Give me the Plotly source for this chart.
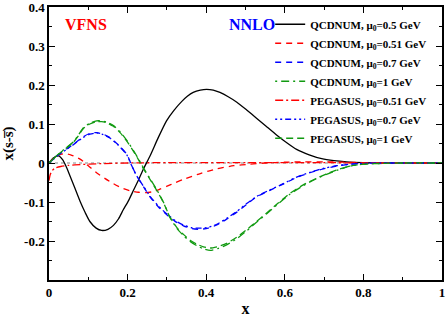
import plotly.graph_objects as go

# ---------------- data ----------------
x_q05 = [0, 0.01, 0.024, 0.035, 0.045, 0.053, 0.065, 0.079, 0.092, 0.104, 0.12, 0.134, 0.15, 0.164,
         0.177, 0.189, 0.202, 0.215, 0.228, 0.240, 0.257, 0.278, 0.299, 0.318, 0.338, 0.352, 0.367,
         0.385, 0.401, 0.418, 0.435, 0.456, 0.478, 0.503, 0.528, 0.554, 0.579, 0.605, 0.630, 0.662,
         0.694, 0.725, 0.757, 0.8, 0.85, 0.9, 1.0]
y_q05 = [0, 0.012, 0.018, 0.008, -0.012, -0.032, -0.062, -0.098, -0.127, -0.150, -0.167, -0.173,
         -0.170, -0.160, -0.143, -0.120, -0.097, -0.070, -0.043, -0.016, 0.018, 0.065, 0.108, 0.135,
         0.158, 0.171, 0.181, 0.187, 0.189, 0.187, 0.181, 0.170, 0.156, 0.136, 0.115, 0.093, 0.072,
         0.052, 0.035, 0.021, 0.011, 0.006, 0.003, 0.001, 0.0, 0.0, 0.0]

x_q051 = [0, 0.015, 0.03, 0.041, 0.055, 0.079, 0.1, 0.121, 0.143, 0.164, 0.185, 0.206, 0.228, 0.245,
          0.262, 0.28, 0.299, 0.32, 0.342, 0.385, 0.427, 0.47, 0.511, 0.55, 0.6, 0.65, 0.7, 0.75,
          0.8, 0.9, 1.0]
y_q051 = [0, 0.015, 0.022, 0.024, 0.021, 0.010, -0.007, -0.025, -0.040, -0.053, -0.064, -0.071,
          -0.075, -0.076, -0.074, -0.068, -0.060, -0.051, -0.042, -0.027, -0.015, -0.007, -0.003,
          0.0, 0.002, 0.003, 0.003, 0.002, 0.001, 0.0, 0.0]

x_q07 = [0, 0.025, 0.045, 0.062, 0.085, 0.104, 0.121, 0.138, 0.155, 0.176, 0.198, 0.21, 0.223, 0.24,
         0.257, 0.278, 0.299, 0.32, 0.342, 0.363, 0.384, 0.405, 0.427, 0.452, 0.478, 0.503, 0.528,
         0.562, 0.596, 0.63, 0.664, 0.698, 0.732, 0.766, 0.8, 0.85, 0.9, 1.0]
y_q07 = [0, 0.022, 0.036, 0.048, 0.066, 0.076, 0.078, 0.074, 0.065, 0.047, 0.022, -0.005, -0.033,
         -0.060, -0.087, -0.112, -0.132, -0.149, -0.161, -0.168, -0.170, -0.167, -0.159, -0.144,
         -0.126, -0.106, -0.087, -0.070, -0.054, -0.037, -0.025, -0.015, -0.008, -0.003, -0.001,
         0.0, 0.0, 0.0]

x_q1 = [0, 0.025, 0.045, 0.062, 0.075, 0.087, 0.104, 0.121, 0.134, 0.147, 0.164, 0.181, 0.198,
        0.215, 0.228, 0.240, 0.257, 0.274, 0.291, 0.308, 0.325, 0.342, 0.359, 0.376, 0.393, 0.41,
        0.431, 0.452, 0.478, 0.503, 0.528, 0.554, 0.584, 0.613, 0.647, 0.681, 0.706, 0.732, 0.766,
        0.8, 0.85, 0.9, 1.0]
y_q1 = [0, 0.024, 0.040, 0.054, 0.072, 0.090, 0.102, 0.108, 0.108, 0.105, 0.096, 0.080, 0.058,
        0.032, 0.010, -0.012, -0.040, -0.068, -0.100, -0.140, -0.167, -0.186, -0.201, -0.212,
        -0.220, -0.224, -0.219, -0.210, -0.194, -0.174, -0.152, -0.130, -0.104, -0.080, -0.058,
        -0.040, -0.029, -0.019, -0.008, -0.003, -0.001, 0.0, 0.0]

x_p051 = [0, 0.003, 0.008, 0.015, 0.03, 0.05, 0.08, 0.12, 0.2, 0.3, 0.4, 0.5, 0.6, 0.7, 0.8, 0.9, 1.0]
y_p051 = [-0.045, -0.030, -0.020, -0.013, -0.009, -0.006, -0.004, -0.002, 0.0, 0.001, 0.001,
          0.001, 0.001, 0.001, 0.0, 0.0, 0.0]

x_p07 = [0, 0.025, 0.045, 0.062, 0.085, 0.104, 0.121, 0.138, 0.155, 0.176, 0.198, 0.21, 0.223, 0.24,
         0.257, 0.278, 0.299, 0.32, 0.342, 0.363, 0.384, 0.405, 0.427, 0.452, 0.478, 0.503, 0.528,
         0.562, 0.596, 0.63, 0.664, 0.698, 0.732, 0.766, 0.8, 0.85, 0.9, 1.0]
y_p07 = [0, 0.021, 0.035, 0.047, 0.064, 0.074, 0.077, 0.073, 0.064, 0.046, 0.021, -0.006, -0.033,
         -0.059, -0.085, -0.110, -0.130, -0.147, -0.159, -0.166, -0.167, -0.165, -0.157, -0.142,
         -0.124, -0.104, -0.086, -0.069, -0.053, -0.036, -0.024, -0.014, -0.007, -0.003, -0.001,
         0.0, 0.0, 0.0]

x_p1 = [0, 0.025, 0.045, 0.062, 0.075, 0.087, 0.104, 0.121, 0.134, 0.147, 0.164, 0.181, 0.198,
        0.215, 0.228, 0.240, 0.257, 0.274, 0.291, 0.308, 0.325, 0.342, 0.359, 0.376, 0.393, 0.41,
        0.431, 0.452, 0.478, 0.503, 0.528, 0.554, 0.584, 0.613, 0.647, 0.681, 0.706, 0.732, 0.766,
        0.8, 0.85, 0.9, 1.0]
y_p1 = [0, 0.023, 0.039, 0.053, 0.070, 0.088, 0.100, 0.106, 0.106, 0.103, 0.094, 0.078, 0.056,
        0.030, 0.008, -0.014, -0.042, -0.070, -0.101, -0.139, -0.165, -0.183, -0.198, -0.208,
        -0.215, -0.218, -0.214, -0.206, -0.190, -0.171, -0.150, -0.128, -0.102, -0.078, -0.056,
        -0.039, -0.028, -0.018, -0.008, -0.003, -0.001, 0.0, 0.0]

series = [
    ("QCDNUM, μ<sub>0</sub>=0.5 GeV", x_q05, y_q05, "black", "solid"),
    ("QCDNUM, μ<sub>0</sub>=0.51 GeV", x_q051, y_q051, "#ff0000", "6px,5px"),
    ("QCDNUM, μ<sub>0</sub>=0.7 GeV", x_q07, y_q07, "#0000ff", "6px,5px"),
    ("QCDNUM, μ<sub>0</sub>=1 GeV", x_q1, y_q1, "#119a11", "2px,4px,8px,4px"),
    ("PEGASUS, μ<sub>0</sub>=0.51 GeV", x_p051, y_p051, "#ff0000", "8px,3px,2px,3px"),
    ("PEGASUS, μ<sub>0</sub>=0.7 GeV", x_p07, y_p07, "#0000ff", "2px,3px,2px,3px,6px,3px"),
    ("PEGASUS, μ<sub>0</sub>=1 GeV", x_p1, y_p1, "#119a11", "7px,4px"),
]

y_tickvals = [-0.2, -0.1, 0, 0.1, 0.2, 0.3, 0.4]
y_ticktext = ["-0.2", "-0.1", "0", "0.1", "0.2", "0.3", "0.4"]
x_tickvals = [0, 0.2, 0.4, 0.6, 0.8, 1.0]
x_ticktext = ["0", "0.2", "0.4", "0.6", "0.8", "1"]

FONT = "Liberation Serif"

fig = go.Figure()

# zero reference line
fig.add_shape(type="line", xref="x", yref="y", x0=0, x1=1, y0=0, y1=0,
              line=dict(color="#888888", width=1, dash="dot"), layer="below")

for name, xs, ys, color, dash in series:
    fig.add_trace(go.Scatter(x=xs, y=ys, mode="lines", name=name,
                             line=dict(color=color, width=1.3, dash=dash, shape="spline",
                                       smoothing=0.6)))

fig.add_annotation(x=0.095, y=0.354, xref="x", yref="y", text="VFNS", showarrow=False,
                   font=dict(family=FONT, size=16, color="#ff0000", weight="bold"))
fig.add_annotation(x=0.517, y=0.354, xref="x", yref="y", text="NNLO", showarrow=False,
                   font=dict(family=FONT, size=16, color="#0000ff", weight="bold"))

axis_common = dict(showline=True, linecolor="black", linewidth=1.5, mirror="allticks",
                   ticks="inside", ticklen=6, tickwidth=1.2, tickcolor="black",
                   showgrid=False, zeroline=False, automargin=False,
                   ticklabeloverflow="allow",
                   tickfont=dict(family=FONT, size=13, color="black", weight="bold"))

fig.update_xaxes(range=[0, 1], tickvals=x_tickvals, ticktext=x_ticktext,
                 minor=dict(dtick=0.1, tick0=0, ticks="inside", ticklen=3, tickcolor="black",
                            tickwidth=1.2),
                 title=dict(text="x", font=dict(family=FONT, size=16, color="black", weight="bold"),
                            standoff=3),
                 **axis_common)
fig.update_yaxes(range=[-0.3, 0.4], tickvals=y_tickvals, ticktext=y_ticktext,
                 minor=dict(tickvals=[-0.3, -0.25, -0.15, -0.05, 0.05, 0.15, 0.25, 0.35],
                            ticks="inside", ticklen=3, tickcolor="black", tickwidth=1.2),
                 title=dict(text="x(s-s\u0305)", font=dict(family=FONT, size=15, color="black",
                                                           weight="bold"), standoff=8),
                 **axis_common)

fig.update_layout(
    width=447, height=318,
    margin=dict(l=49, r=5, t=7, b=38),
    paper_bgcolor="white", plot_bgcolor="white",
    showlegend=True,
    legend=dict(x=0.975, y=0.99, xanchor="right", yanchor="top",
                bgcolor="rgba(0,0,0,0)", borderwidth=0,
                font=dict(family=FONT, size=11, color="black", weight="bold"),
                tracegroupgap=0, itemwidth=30),
)

fig.write_html("out.html", config={"displayModeBar": False},
               post_script="document.body.style.margin='0px';")
